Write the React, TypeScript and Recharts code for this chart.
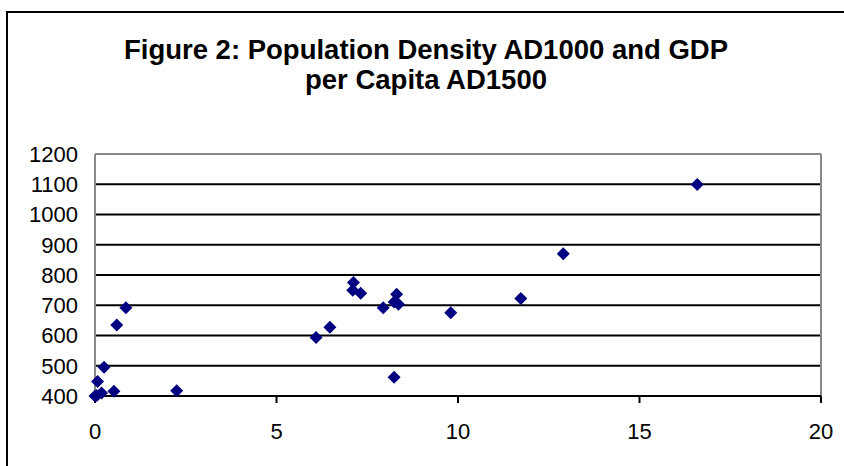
import React from "react";
import { ScatterChart, Scatter, XAxis, YAxis, CartesianGrid, ReferenceLine } from "recharts";

const densityAD1000 = [0, 0.05, 0.07, 0.18, 0.25, 0.52, 0.6, 0.85, 2.25, 6.09, 6.47, 7.1, 7.12, 7.32, 7.94, 8.24, 8.24, 8.36, 8.31, 9.8, 11.73, 12.9, 16.59];
const gdpAD1500 = [400, 402, 448, 410, 495, 416, 635, 692, 417, 593, 627, 750, 775, 740, 692, 462, 711, 703, 736, 675, 722, 870, 1099];
const xTicks = [0, 5, 10, 15, 20];
const yTicks = [400, 500, 600, 700, 800, 900, 1000, 1100, 1200];
const titleLines = ["Figure 2: Population Density AD1000 and GDP", "per Capita AD1500"];

const data = densityAD1000.map((x, i) => ({ x, y: gdpAD1500[i] }));

const FONT = '"Liberation Sans", Arial, sans-serif';
const TICK_STYLE = { fontSize: "22px", fontFamily: FONT, fill: "#000" };

const Diamond = (props: any) => {
  const { cx, cy } = props;
  const r = 6.5;
  return <polygon points={`${cx},${cy - r} ${cx + r},${cy} ${cx},${cy + r} ${cx - r},${cy}`} fill="#000080" />;
};

const XTick = (props: any) => {
  const { x, y, payload } = props;
  return (
    <text x={x} y={y + 15.6} textAnchor="middle" style={TICK_STYLE}>
      {String(payload.value)}
    </text>
  );
};

const YTick = (props: any) => {
  const { x, y, payload } = props;
  return (
    <text x={x} y={y + 7.8} textAnchor="end" style={TICK_STYLE}>
      {String(payload.value)}
    </text>
  );
};

export default function App() {
  return (
    <div style={{ position: "fixed", left: 0, top: 0, width: 844, height: 466, overflow: "hidden", background: "#fff", fontFamily: FONT, fontSize: 22 }}>
      {titleLines.map((t, i) => (
        <div key={i} style={{ position: "absolute", left: 0, width: 852, top: 35 + i * 30, textAlign: "center", fontSize: 27.5, fontWeight: "bold", lineHeight: "30px", color: "#000", whiteSpace: "nowrap" }}>{t}</div>
      ))}
      <div style={{ position: "absolute", left: 0, top: 0 }}>
        <ScatterChart width={844} height={466} margin={{ top: 154, right: 23, bottom: 40, left: 35 }}>
          <CartesianGrid vertical={false} stroke="#000" strokeWidth={2} />
          <XAxis
            type="number"
            dataKey="x"
            domain={[0, 20]}
            ticks={xTicks}
            height={30}
            axisLine={{ stroke: "#000", strokeWidth: 2 }}
            tickLine={{ stroke: "#000", strokeWidth: 2 }}
            tickSize={7}
            tickMargin={20}
            tick={XTick}
            interval={0}
          />
          <YAxis
            type="number"
            dataKey="y"
            domain={[400, 1200]}
            ticks={yTicks}
            width={60}
            axisLine={{ stroke: "#888", strokeWidth: 2 }}
            tickLine={false}
            tickSize={6}
            tickMargin={11}
            tick={YTick}
            interval={0}
          />
          <ReferenceLine y={1200} stroke="#888" strokeWidth={2} />
          <ReferenceLine x={20} stroke="#888" strokeWidth={2} />
          <Scatter data={data} shape={Diamond} isAnimationActive={false} />
        </ScatterChart>
      </div>
      <div style={{ position: "absolute", left: 6, top: 11, width: 2, height: 470, background: "#000" }} />
      <div style={{ position: "absolute", left: 6, top: 11, width: 850, height: 2, background: "#000" }} />
    </div>
  );
}
